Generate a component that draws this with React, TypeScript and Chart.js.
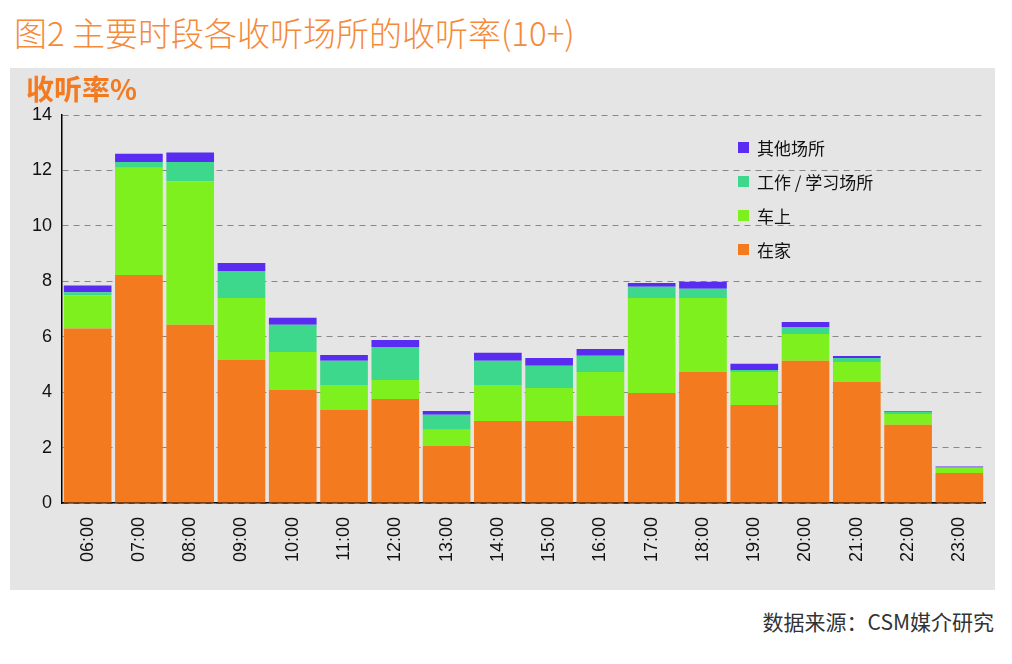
import React, { useEffect, useRef } from "react";
import { Chart, registerables } from "chart.js";
Chart.register(...registerables);

const categories = ["06:00","07:00","08:00","09:00","10:00","11:00","12:00","13:00","14:00","15:00","16:00","17:00","18:00","19:00","20:00","21:00","22:00","23:00"];
const home = [6.3,8.23,6.43,5.16,4.08,3.36,3.75,2.06,2.96,2.96,3.14,3.97,4.73,3.54,5.13,4.37,2.82,1.08];
const car = [1.2,3.87,5.17,2.24,1.37,0.9,0.69,0.58,1.3,1.19,1.59,3.43,2.67,1.19,0.97,0.72,0.39,0.18];
const work = [0.1,0.2,0.7,0.97,0.98,0.87,1.19,0.54,0.87,0.8,0.58,0.4,0.33,0.07,0.25,0.14,0.08,0.04];
const other = [0.25,0.3,0.35,0.29,0.25,0.21,0.25,0.14,0.29,0.28,0.25,0.14,0.25,0.22,0.18,0.07,0.03,0.02];
const yTicks = [0,2,4,6,8,10,12,14];

const colors = { home: "#f47a20", car: "#7ef01e", work: "#3dd88c", other: "#5a2cf2" };
const legendItems = [
  ["其他场所", colors.other],
  ["工作 / 学习场所", colors.work],
  ["车上", colors.car],
  ["在家", colors.home],
];

export default function App() {
  const ref = useRef<HTMLCanvasElement>(null);
  useEffect(() => {
    const font = { family: "Arial, 'Liberation Sans', sans-serif", size: 18 };
    const chart = new Chart(ref.current!, {
      type: "bar",
      data: {
        labels: categories,
        datasets: [
          { label: "在家", data: home, backgroundColor: colors.home },
          { label: "车上", data: car, backgroundColor: colors.car },
          { label: "工作/学习场所", data: work, backgroundColor: colors.work },
          { label: "其他场所", data: other, backgroundColor: colors.other },
        ].map((d) => ({ ...d, barPercentage: 1, categoryPercentage: 0.93 })),
      },
      options: {
        animation: false,
        responsive: false,
        maintainAspectRatio: false,
        layout: { padding: { top: 47, right: 10, left: 0, bottom: 0 } },
        plugins: { legend: { display: false }, tooltip: { enabled: false } },
        scales: {
          x: {
            stacked: true,
            grid: { display: false },
            border: { color: "#000", width: 1.5 },
            ticks: { color: "#111", font, maxRotation: 90, minRotation: 90, padding: 6 },
            afterFit: (s: any) => { s.height = 87; },
          },
          y: {
            stacked: true,
            min: 0,
            max: 14,
            afterBuildTicks: (s: any) => { s.ticks = yTicks.map((v) => ({ value: v })); },
            grid: { color: "#888", lineWidth: 1, drawTicks: false },
            border: { color: "#000", width: 1.5, dash: [6, 5] },
            ticks: { color: "#111", font, padding: 10 },
            afterFit: (s: any) => { s.width = 52; },
          },
        },
      },
    } as any);
    // dashed grid
    (chart.options.scales as any).y.grid.borderDash = [6, 5];
    chart.update();
    return () => chart.destroy();
  }, []);

  return (
    <div style={{ position: "absolute", left: 0, top: 0, width: 1012, height: 664, background: "#fff", fontFamily: "'Noto Sans CJK SC', sans-serif" }}>
      <div style={{ position: "absolute", left: 14, top: 8, fontSize: 33, color: "#f58a3a", fontWeight: 300, letterSpacing: 0 }}>
        图2 主要时段各收听场所的收听率(10+)
      </div>
      <div style={{ position: "absolute", left: 10, top: 68, width: 985, height: 522, background: "#e5e5e5" }}>
        <canvas ref={ref} width={985} height={522} style={{ position: "absolute", left: 0, top: 0 }} />
        <div style={{ position: "absolute", left: 16, top: 0, fontSize: 28, fontWeight: 700, color: "#f47a20" }}>收听率%</div>
        <div style={{ position: "absolute", left: 728, top: 62, fontSize: 17, color: "#111" }}>
          {legendItems.map(([t, c]) => (
            <div key={t} style={{ display: "flex", alignItems: "center", height: 34 }}>
              <span style={{ width: 11, height: 11, background: c, marginRight: 8, display: "inline-block" }} />
              {t}
            </div>
          ))}
        </div>
      </div>
      <div style={{ position: "absolute", right: 18, top: 606, fontSize: 21, color: "#333" }}>数据来源：CSM媒介研究</div>
    </div>
  );
}
